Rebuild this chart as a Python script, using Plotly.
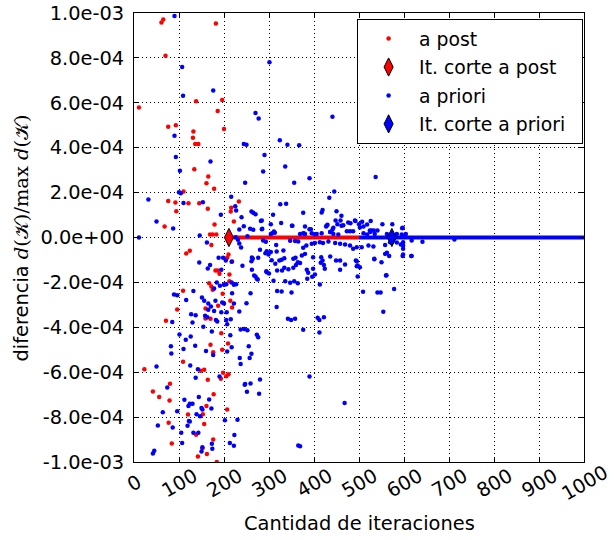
import plotly.graph_objects as go

# ---------------- data (y values in units of 1e-4) ----------------
post_x = [65, 61, 182, 70, 138, 196, 186, 11, 76, 93,
          132, 131, 136, 143, 200, 134, 165, 161, 178, 110,
          76, 92, 121, 145, 164, 94, 68, 179, 169, 175, 183,
          233, 216, 215, 222, 218,
          172, 116, 124, 210, 207, 181, 186, 190, 212, 212,
          167, 172, 175, 201, 109, 197, 214, 187, 218, 159,
          96, 159, 170, 71, 194, 170, 209,
          176, 196, 109, 23, 148, 156, 164, 198, 205, 210,
          193, 80, 42, 56, 79, 177, 161, 120, 153, 207,
          77, 156, 138, 176, 84, 152, 162, 142, 184]
post_y = [9.71, 9.58, 9.53, 8.1, 6.07, 6.12, 5.64, 5.79, 4.93, 5.0,
          4.72, 4.44, 4.16, 4.16, 4.83, 3.04, 2.72, 2.42, 2.17, 2.05,
          1.63, 1.56, 1.53, 1.53, 1.28, 1.17, 0.49, 0.58, 0.13, 0.13, 0.13,
          1.6, 1.32, 1.16, 0.71, -1.07,
          -0.33, -0.71, -0.59, -0.76, -0.9, -1.47, -1.47, -1.62, -1.65, -1.95,
          -2.04, -2.18, -2.33, -2.08, -2.37, -2.51, -2.82, -3.04, -3.12, -3.16,
          -3.21, -3.61, -3.62, -3.71, -4.26, -4.78, -4.72,
          -5.11, -5.0, -5.54, -5.87, -5.94, -5.89, -6.34, -6.03, -6.18, -6.09,
          -6.29, -6.52, -6.86, -7.11, -7.26, -6.98, -7.5, -7.88, -7.87, -7.66,
          -8.25, -8.31, -8.79, -9.0, -9.18, -9.4, -9.64, -9.75, -10.0]

priori_pts = [
    (90, 9.87), (107, 7.59), (109, 6.31), (176, 6.55), (301, 7.81), (441, 5.38), (270, 5.55), (277, 5.3),
    (324, 4.33), (341, 4.13), (367, 4.11), (244, 4.17), (250, 4.13), (290, 3.68), (287, 2.94), (336, 3.16),
    (247, 2.44), (390, 2.64), (356, 2.44), (445, 2.05), (434, 1.77), (537, 2.7), (325, 1.48), (338, 1.5),
    (216, 1.81), (419, 1.23), (417, 1.11), (450, 1.17), (461, 0.97), (376, 1.1), (309, 1.01), (261, 1.16),
    (265, 1.1), (270, 1.04), (225, 1.39), (227, 1.2), (193, 1.01),
    (90, 4.53), (93, 3.59), (170, 3.39), (102, 2.97), (100, 2.02), (104, 1.97), (32, 1.69), (110, 1.54),
    (153, 1.57), (50, 0.71), (87, 0.4), (146, 0.09), (11, 0.0), (252, 0.06), (244, 0.5), (234, 0.36), (239, 0.9),
    (282, 0.73), (327, 0.65), (352, 0.52), (380, 0.49), (390, 0.37), (393, 0.37), (427, 0.49), (430, 0.57),
    (443, 0.43), (452, 0.59), (461, 0.52), (492, 0.74), (500, 0.59), (502, 0.45), (552, 0.59), (574, 0.59),
    (596, 0.41), (541, 0.31), (525, 0.25), (473, 0.28), (480, 0.28), (487, 0.28), (258, 0.39), (285, 0.39),
    (304, 0.16), (313, 0.21),
    (376, 0.19), (380, 0.16), (395, 0.19), (406, 0.16), (417, 0.19), (436, 0.24), (443, 0.16), (454, 0.13),
    (510, 0.19), (518, 0.13), (528, 0.31), (535, 0.16), (562, 0.16), (584, 0.16), (595, 0.13),
    (265, 0.34), (284, 0.76), (284, 0.37), (304, 0.59), (307, 0.19), (311, 0.27), (351, 0.52), (369, 0.16),
    (378, 0.18), (401, 0.15), (428, 0.52), (436, 0.25), (441, 0.34), (448, 0.76), (459, 0.76), (465, 0.55),
    (476, 0.67), (481, 0.64), (507, 0.7), (518, 0.58), (526, 0.73), (533, 0.31), (491, 0.76), (510, 0.49),
    (524, 0.31), (597, 0.43), (604, 0.16), (602, 0.09),
    (287, -0.13), (293, -0.19), (316, -0.33), (280, -0.55), (295, -0.61), (304, -0.65), (317, -0.62),
    (332, -0.58), (347, -0.15), (358, -0.16), (365, -0.18), (376, -0.46), (383, -0.36), (395, -0.28),
    (402, -0.25), (413, -0.21), (420, -0.25), (432, -0.18), (447, -0.24), (458, -0.28), (469, -0.31),
    (480, -0.36), (487, -0.5), (495, -0.43), (506, -0.43), (521, -0.36), (532, -0.4), (558, -0.33),
    (562, -0.68), (598, -0.36), (598, -0.76), (616, -0.82),
    (264, -0.95), (261, -1.06), (292, -0.7), (299, -0.76), (276, -0.9), (306, -1.01), (314, -1.17),
    (323, -1.02), (328, -0.99), (334, -0.92), (354, -0.95), (359, -0.9), (373, -0.8), (380, -0.73),
    (398, -0.88), (416, -0.88), (419, -1.02), (436, -0.85), (449, -1.02), (493, -1.02), (534, -0.97),
    (262, -1.44), (267, -1.69), (273, -1.84), (295, -1.55), (318, -1.47), (329, -1.47), (334, -1.35),
    (343, -1.41), (354, -1.35), (360, -1.23), (364, -1.1), (369, -1.14), (384, -1.44), (387, -1.57),
    (398, -1.39), (402, -1.65), (415, -1.13), (422, -1.22), (424, -1.39), (458, -1.02), (458, -1.44),
    (497, -1.74), (502, -1.32), (561, -1.68), (569, -0.21), (584, -0.22), (598, -0.21), (617, -0.13),
    (593, -0.31), (598, -0.5), (597, -0.82), (617, -0.82), (641, -0.19), (712, -0.09), (497, -1.25),
    (495, -1.06), (550, -1.1), (560, -1.69), (567, -0.82), (558, -0.73), (534, -0.95),
    (294, -1.5), (300, -1.6), (310, -1.93), (270, -1.74), (275, -1.87), (336, -1.95), (347, -2.02),
    (356, -1.95), (364, -2.04), (385, -1.84), (396, -1.75), (413, -2.09), (328, -2.41), (350, -2.45),
    (318, -2.38), (509, -2.42), (541, -2.45), (548, -2.45), (578, -2.29), (469, -1.2), (495, -1.28),
    (554, -3.31),
    (317, -3.1), (342, -3.62), (349, -3.67), (358, -3.62), (376, -4.11), (408, -3.58), (412, -3.68),
    (422, -3.55), (412, -4.23), (390, -6.19), (468, -7.37), (252, -4.13), (273, -4.33), (276, -4.44),
    (255, -4.84), (257, -5.37), (247, -6.53), (259, -6.5), (278, -6.96), (280, -6.33), (251, -6.87),
    (365, -9.27), (369, -9.3),
    (226, 0.01), (231, -0.1), (162, -0.22), (234, -0.27), (238, -0.45), (145, -1.11), (188, -0.9),
    (198, -0.9), (204, -1.02), (217, -1.08), (169, -1.22), (241, -1.26), (262, -0.89), (164, -1.38),
    (194, -1.44), (184, -2.0), (191, -2.15), (200, -2.11), (205, -2.08), (217, -2.0), (222, -2.11),
    (227, -2.08), (178, -2.27), (259, -2.48), (218, -2.48), (132, -2.38), (89, -2.54), (96, -2.57),
    (116, -2.78), (151, -2.67), (156, -2.82), (165, -2.94), (171, -3.07), (181, -2.82), (196, -2.9),
    (200, -2.94), (222, -2.94), (250, -2.93), (165, -3.22), (178, -3.27), (234, -3.3), (194, -3.33),
    (206, -3.33), (127, -3.42), (137, -3.46), (158, -3.49), (163, -3.55), (182, -3.67), (185, -3.74),
    (205, -3.67), (215, -3.64), (85, -3.76), (130, -3.79), (154, -3.98), (207, -3.86), (237, -4.1),
    (245, -4.08), (173, -4.19), (101, -4.32), (115, -4.56), (126, -4.41), (214, -4.35), (82, -4.84),
    (136, -4.82), (217, -4.89),
    (83, -5.17), (110, -4.97), (160, -5.06), (176, -5.23), (207, -5.08), (235, -5.37), (237, -5.63),
    (261, -5.18), (50, -5.75), (125, -5.7), (142, -5.87), (137, -6.25), (190, -6.19), (74, -6.68),
    (246, -6.56), (144, -7.1), (112, -7.23), (167, -7.22), (124, -7.41), (130, -7.41), (121, -7.51),
    (150, -7.59), (152, -7.66), (172, -7.62), (96, -7.74), (64, -7.78), (139, -7.87), (147, -7.96),
    (122, -8.17), (124, -8.2), (119, -8.39), (202, -8.14), (230, -8.12), (53, -8.37), (86, -8.46),
    (105, -8.7), (132, -8.7), (143, -8.7), (223, -8.8), (107, -9.15), (173, -9.19), (213, -9.15),
    (152, -9.34), (174, -9.41), (45, -9.5), (42, -9.62), (150, -9.53), (222, -9.28),
]
priori_x = [p[0] for p in priori_pts]
priori_y = [p[1] for p in priori_pts]

# converged (zero-difference) stretches
post_zero_x = [211, 500]
post_zero_y = [0.0, 0.0]
priori_zero_x = [500, 1000]
priori_zero_y = [0.0, 0.0]

# cut iterations
post_cut_x = [211]
post_cut_y = [0.0]
priori_cut_x = [573]
priori_cut_y = [0.0]

series_names = ["a post", "It. corte a post", "a priori", "It. corte a priori"]

SCALE = 1e-4
x_tick_vals = [0, 100, 200, 300, 400, 500, 600, 700, 800, 900, 1000]
x_tick_text = ["0", "100", "200", "300", "400", "500", "600", "700", "800", "900", "1000"]
y_tick_vals = [-10, -8, -6, -4, -2, 0, 2, 4, 6, 8, 10]
y_tick_text = ["-1.0e-03", "-8.0e-04", "-6.0e-04", "-4.0e-04", "-2.0e-04", "0.0e+00",
               "2.0e-04", "4.0e-04", "6.0e-04", "8.0e-04", "1.0e-03"]

RED = "rgb(255,0,0)"
BLUE = "rgb(0,0,255)"
FONT = "DejaVu Sans"
FS = 19.4
LFS = 18.8
PAD = "\u00a0\u00a0"  # right padding inside the legend box

sc = lambda arr: [v * SCALE for v in arr]

fig = go.Figure()
fig.add_trace(go.Scatter(x=post_zero_x, y=sc(post_zero_y), mode="lines",
                         line=dict(color=RED, width=4), showlegend=False, hoverinfo="skip"))
fig.add_trace(go.Scatter(x=post_x, y=sc(post_y), mode="markers", name=series_names[0] + PAD,
                         legendgroup="g1",
                         marker=dict(color=RED, size=4.5, line=dict(width=0))))
fig.add_trace(go.Scatter(x=post_cut_x, y=sc(post_cut_y), mode="markers", name=series_names[1] + PAD,
                         legendgroup="g2", cliponaxis=False,
                         marker=dict(color=RED, symbol="diamond-tall", size=13,
                                     line=dict(color="black", width=1))))
fig.add_trace(go.Scatter(x=priori_x, y=sc(priori_y), mode="markers", name=series_names[2] + PAD,
                         legendgroup="g3",
                         marker=dict(color=BLUE, size=4.5, line=dict(width=0))))
fig.add_trace(go.Scatter(x=priori_zero_x, y=sc(priori_zero_y), mode="lines",
                         line=dict(color=BLUE, width=4), showlegend=False, hoverinfo="skip"))
fig.add_trace(go.Scatter(x=priori_cut_x, y=sc(priori_cut_y), mode="markers", name=series_names[3] + PAD,
                         legendgroup="g4",
                         marker=dict(color=BLUE, symbol="diamond-tall", size=13,
                                     line=dict(color="black", width=1))))

axis_common = dict(showgrid=True, gridcolor="black", gridwidth=1, griddash="1px,3px",
                   zeroline=False, showline=True, linecolor="black", linewidth=1, mirror="ticks",
                   ticks="inside", ticklen=5, tickcolor="black", tickwidth=1, automargin=False)

fig.update_xaxes(range=[0, 1000], tickvals=x_tick_vals, showticklabels=False, **axis_common)
fig.update_yaxes(range=[-1e-3, 1e-3], tickvals=sc(y_tick_vals), ticktext=y_tick_text,
                 ticklabelstandoff=5, tickfont=dict(family=FONT, size=FS, color="black"),
                 **axis_common)

for v, t in zip(x_tick_vals, x_tick_text):
    fig.add_annotation(x=v, y=-0.047, xref="x", yref="paper", text=t, showarrow=False,
                       textangle=-30, xanchor="center", yanchor="middle",
                       font=dict(family=FONT, size=FS, color="black"))

fig.add_annotation(x=0.5, y=-0.136, xref="paper", yref="paper", text="Cantidad de iteraciones",
                   showarrow=False, xanchor="center", yanchor="middle",
                   font=dict(family=FONT, size=FS, color="black"))
ytitle = ('diferencia <span style="font-family:\'DejaVu Serif\'"><i>d</i>(𝒦)/max <i>d</i>(𝒦)</span>')
fig.add_annotation(x=-0.249, y=0.5, xref="paper", yref="paper", text=ytitle,
                   showarrow=False, textangle=-90, xanchor="center", yanchor="middle",
                   font=dict(family=FONT, size=FS, color="black"))

fig.update_layout(
    width=616, height=540,
    margin=dict(l=134, r=32, t=13, b=78, autoexpand=False),
    paper_bgcolor="white", plot_bgcolor="white",
    font=dict(family=FONT, size=FS, color="black"),
    legend=dict(x=0.998, y=0.987, xanchor="right", yanchor="top",
                bgcolor="white", bordercolor="black", borderwidth=1,
                font=dict(family=FONT, size=LFS, color="black"),
                tracegroupgap=1, itemwidth=51, traceorder="grouped"),
)

fig.write_html("out.html")
